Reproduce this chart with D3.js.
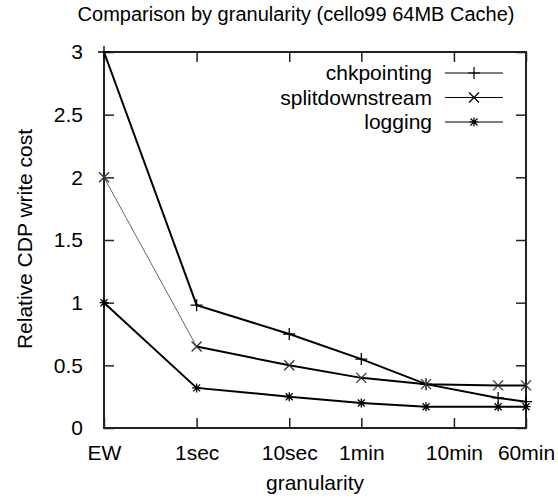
<!DOCTYPE html>
<html>
<head>
<meta charset="utf-8">
<script src="https://cdn.jsdelivr.net/npm/d3@7"></script>
<style>
  body { margin: 0; background: #fff; }
  text { font-family: "Liberation Sans", Arial, sans-serif; fill: #000; }
</style>
</head>
<body>
<div id="chart"></div>
<script>
// granularity chart, gnuplot look
const svgWidth = 558;
const svgHeight = 498;
const margin = { top: 52, right: 32, bottom: 70, left: 104 };
const width = svgWidth - margin.left - margin.right;
const height = svgHeight - margin.top - margin.bottom;

// x ticks (seconds, EW drawn as 0.1 sec on log axis)
const tickLabels = ["EW", "1sec", "10sec", "1min", "10min", "60min"];
const tickSeconds = [0.1, 1, 10, 60, 600, 3600];
// measured granularities (seconds)
const sampleSeconds = [0.1, 1, 10, 60, 300, 1800, 3600];
// series values
const chkpointing = [3, 0.98, 0.75, 0.55, 0.35, 0.24, 0.21];
const splitdownstream = [2, 0.65, 0.5, 0.4, 0.35, 0.34, 0.34];
const logging = [1, 0.32, 0.25, 0.2, 0.17, 0.17, 0.17];
const yTicks = [0, 0.5, 1, 1.5, 2, 2.5, 3];

const seriesNames = ["chkpointing", "splitdownstream", "logging"];
const seriesValues = [chkpointing, splitdownstream, logging];
const seriesMarks = ["plus", "cross", "star"];

const svg = d3.select("#chart")
    .append("svg")
    .attr("width", svgWidth)
    .attr("height", svgHeight)
    .append("g")
    .attr("transform", `translate(${margin.left},${margin.top})`);

const x = d3.scaleLog()
    .domain([0.1, 3600])
    .range([0, width]);

const y = d3.scaleLinear()
    .domain([0, 3])
    .range([height, 0]);

const frameColor = "#222";

// tick marks inside the frame, mirrored on opposite sides
svg.append("g")
    .attr("class", "axis axis-x")
    .attr("transform", `translate(0, ${height})`)
    .call(d3.axisBottom(x).tickValues(tickSeconds).tickFormat((d, i) => tickLabels[i]).tickSizeInner(-10).tickSizeOuter(0).tickPadding(17));

svg.append("g")
    .attr("transform", `translate(0, 0)`)
    .call(d3.axisTop(x).tickValues(tickSeconds).tickFormat("").tickSizeInner(-10).tickSizeOuter(0));

svg.append("g")
    .attr("class", "axis axis-y")
    .call(d3.axisLeft(y).tickValues(yTicks).tickFormat(d3.format("")).tickSizeInner(-10).tickSizeOuter(0).tickPadding(21));

svg.append("g")
    .attr("transform", `translate(${width}, 0)`)
    .call(d3.axisRight(y).tickValues(yTicks).tickFormat("").tickSizeInner(-10).tickSizeOuter(0));

svg.selectAll(".domain").remove();
svg.selectAll(".tick line").attr("stroke", frameColor).attr("stroke-width", 1.5);
svg.selectAll(".axis text").attr("font-size", "21px").attr("fill", "#000");

// frame
svg.append("rect")
    .attr("x", 0)
    .attr("y", 0)
    .attr("width", width)
    .attr("height", height)
    .attr("fill", "none")
    .attr("stroke", frameColor)
    .attr("stroke-width", 2);

// marker path, gnuplot style points
function markPath(kind, cx, cy) {
    const p = d3.path();
    if (kind === "plus" || kind === "star") {
        const s = kind === "plus" ? 6 : 4.5;
        p.moveTo(cx - s, cy); p.lineTo(cx + s, cy);
        p.moveTo(cx, cy - s); p.lineTo(cx, cy + s);
    }
    if (kind === "cross" || kind === "star") {
        const s = kind === "cross" ? 5 : 3.5;
        p.moveTo(cx - s, cy - s); p.lineTo(cx + s, cy + s);
        p.moveTo(cx - s, cy + s); p.lineTo(cx + s, cy - s);
    }
    return p.toString();
}

const line = d3.line()
    .x((d, i) => x(sampleSeconds[i]))
    .y(d => y(d));

seriesValues.forEach(function (vals, k) {
    const g = svg.append("g").attr("class", "series");
    if (seriesNames[k] === "splitdownstream") {
        // first segment looks thin/grey in the original
        g.append("path")
            .attr("d", line(vals.slice(0, 2)))
            .attr("fill", "none")
            .attr("stroke", "#666")
            .attr("stroke-width", 1);
        g.append("path")
            .attr("d", d3.line().x((d, i) => x(sampleSeconds[i + 1])).y(d => y(d))(vals.slice(1)))
            .attr("fill", "none")
            .attr("stroke", "#000")
            .attr("stroke-width", 2);
    } else {
        g.append("path")
            .attr("d", line(vals))
            .attr("fill", "none")
            .attr("stroke", "#000")
            .attr("stroke-width", 2);
    }
    g.selectAll(".pt")
        .data(vals)
        .enter()
        .append("path")
        .attr("d", (d, i) => markPath(seriesMarks[k], x(sampleSeconds[i]), y(d)))
        .attr("stroke", k === 1 ? "#333" : "#000")
        .attr("stroke-width", 1.3)
        .attr("fill", "none");
});

// legend
const legend = svg.append("g")
    .attr("transform", `translate(${width - 94}, 21)`);

seriesNames.forEach(function (name, k) {
    const row = legend.append("g").attr("transform", `translate(0, ${k * 24.5})`);
    row.append("text")
        .text(name)
        .attr("x", 0)
        .attr("y", 7)
        .attr("text-anchor", "end")
        .attr("font-size", "21px");
    row.append("line")
        .attr("x1", 13)
        .attr("x2", 71)
        .attr("y1", 0)
        .attr("y2", 0)
        .attr("stroke", "#000")
        .attr("stroke-width", 1.2);
    row.append("path")
        .attr("d", markPath(seriesMarks[k], 42, 0))
        .attr("stroke", "#000")
        .attr("stroke-width", 1.2)
        .attr("fill", "none");
});

// titles
svg.append("text")
    .text("Comparison by granularity (cello99 64MB Cache)")
    .attr("x", 192)
    .attr("y", -31)
    .attr("text-anchor", "middle")
    .attr("font-size", "20px");

svg.append("text")
    .text("granularity")
    .attr("x", width / 2)
    .attr("y", height + 62)
    .attr("text-anchor", "middle")
    .attr("font-size", "21px");

svg.append("text")
    .text("Relative CDP write cost")
    .attr("transform", `translate(${-72}, ${187}) rotate(-90)`)
    .attr("text-anchor", "middle")
    .attr("font-size", "21px");
</script>
</body>
</html>
